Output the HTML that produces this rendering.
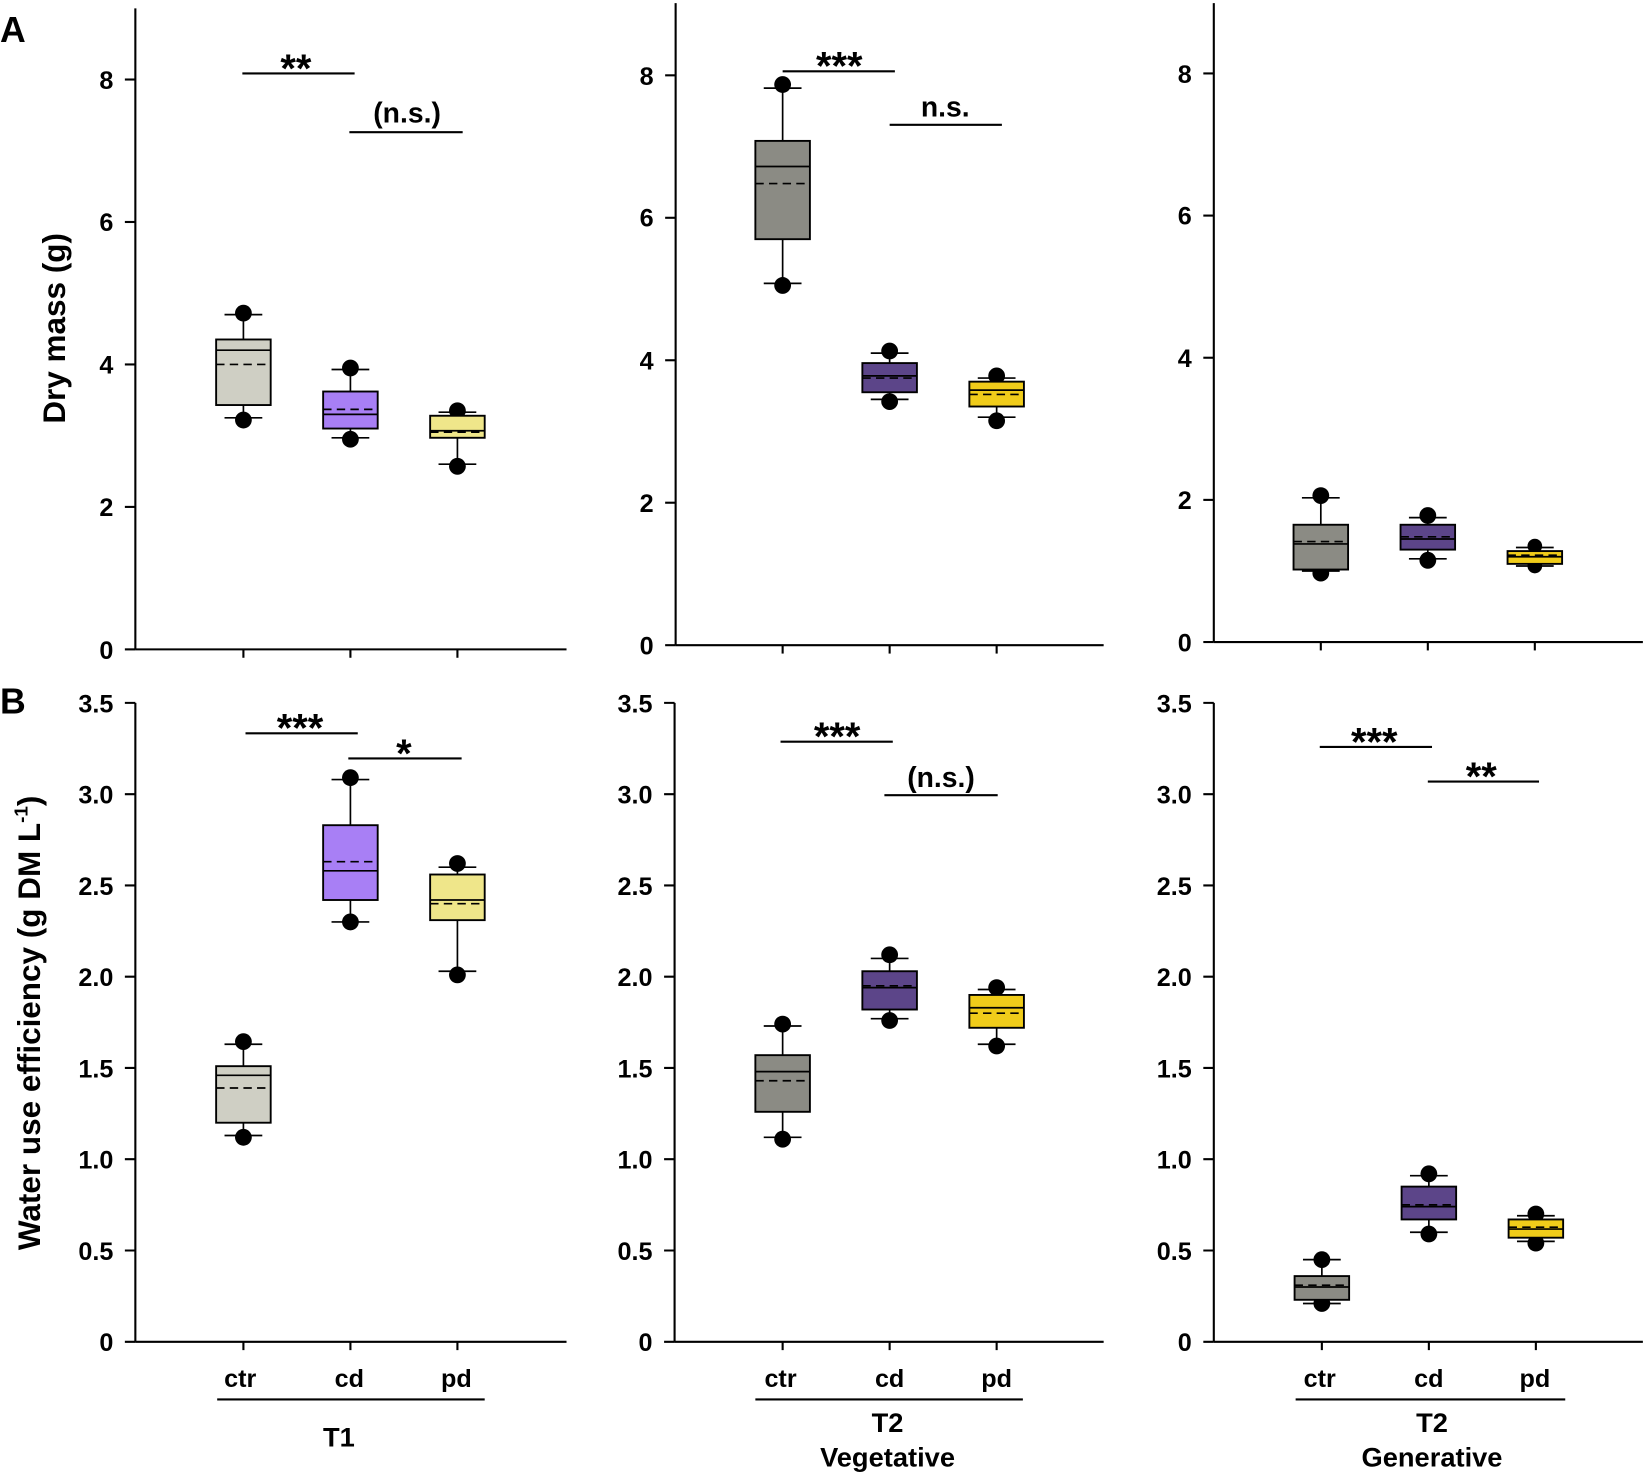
<!DOCTYPE html>
<html><head><meta charset="utf-8"><style>
html,body{margin:0;padding:0;background:#fff;}
svg{display:block;}
text{font-family:"Liberation Sans",Arial,sans-serif;font-weight:bold;fill:#000;}
.ax line,.ax path{stroke:#000;stroke-width:2;fill:none;}
.bx rect{stroke:#000;stroke-width:1.8;}
.bx line{stroke:#000;stroke-width:1.6;}
.bx .mn{stroke-dasharray:8,5;}
.bx circle{fill:#000;}
.tk{font-size:24px;}
.sig line{stroke:#000;stroke-width:2;}
.st{font-size:38px;}
</style></head><body>
<svg width="1645" height="1475" viewBox="0 0 1568 1406" xmlns="http://www.w3.org/2000/svg">
<text x="0" y="40" font-size="34">A</text>
<text x="0" y="680" font-size="34">B</text>
<text transform="translate(62,313) rotate(-90)" font-size="30" text-anchor="middle">Dry mass (g)</text>
<text transform="translate(38,975) rotate(-90)" font-size="30" text-anchor="middle">Water use efficiency (g DM L<tspan dy="-12" font-size="18">-1</tspan><tspan dy="12">)</tspan></text>

<g class="ax">
<line x1="129" y1="8" x2="129" y2="619"/><line x1="129" y1="619" x2="540" y2="619"/>
<line x1="119" y1="619" x2="129" y2="619"/><line x1="119" y1="483.2" x2="129" y2="483.2"/><line x1="119" y1="347.4" x2="129" y2="347.4"/><line x1="119" y1="211.6" x2="129" y2="211.6"/><line x1="119" y1="75.8" x2="129" y2="75.8"/>
<line x1="232" y1="619" x2="232" y2="627"/><line x1="334" y1="619" x2="334" y2="627"/><line x1="436" y1="619" x2="436" y2="627"/>

<line x1="644" y1="3" x2="644" y2="615"/><line x1="644" y1="615" x2="1052" y2="615"/>
<line x1="634" y1="615" x2="644" y2="615"/><line x1="634" y1="479.2" x2="644" y2="479.2"/><line x1="634" y1="343.4" x2="644" y2="343.4"/><line x1="634" y1="207.6" x2="644" y2="207.6"/><line x1="634" y1="71.8" x2="644" y2="71.8"/>
<line x1="746" y1="615" x2="746" y2="623"/><line x1="848" y1="615" x2="848" y2="623"/><line x1="950" y1="615" x2="950" y2="623"/>

<line x1="1157" y1="3" x2="1157" y2="612"/><line x1="1157" y1="612" x2="1566" y2="612"/>
<line x1="1147" y1="612" x2="1157" y2="612"/><line x1="1147" y1="476.5" x2="1157" y2="476.5"/><line x1="1147" y1="341" x2="1157" y2="341"/><line x1="1147" y1="205.5" x2="1157" y2="205.5"/><line x1="1147" y1="70" x2="1157" y2="70"/>
<line x1="1259" y1="612" x2="1259" y2="620"/><line x1="1361" y1="612" x2="1361" y2="620"/><line x1="1463" y1="612" x2="1463" y2="620"/>
</g>
<g class="tk" text-anchor="end">
<text x="108" y="628">0</text><text x="108" y="492">2</text><text x="108" y="356">4</text><text x="108" y="220">6</text><text x="108" y="85">8</text>
<text x="623" y="624">0</text><text x="623" y="488">2</text><text x="623" y="352">4</text><text x="623" y="216">6</text><text x="623" y="81">8</text>
<text x="1136" y="621">0</text><text x="1136" y="485">2</text><text x="1136" y="350">4</text><text x="1136" y="214">6</text><text x="1136" y="79">8</text>
</g>

<g class="ax">
<line x1="129" y1="670" x2="129" y2="1279"/><line x1="129" y1="1279" x2="540" y2="1279"/>
<line x1="643" y1="670" x2="643" y2="1279"/><line x1="643" y1="1279" x2="1052" y2="1279"/>
<line x1="1157" y1="670" x2="1157" y2="1279"/><line x1="1157" y1="1279" x2="1566" y2="1279"/>
<path d="M119 1279H129M119 1192H129M119 1105H129M119 1018H129M119 931H129M119 844H129M119 757H129M119 670H129"/>
<path d="M633 1279H643M633 1192H643M633 1105H643M633 1018H643M633 931H643M633 844H643M633 757H643M633 670H643"/>
<path d="M1147 1279H1157M1147 1192H1157M1147 1105H1157M1147 1018H1157M1147 931H1157M1147 844H1157M1147 757H1157M1147 670H1157"/>
<path d="M232 1279V1287M334 1279V1287M436 1279V1287M746 1279V1287M848 1279V1287M950 1279V1287M1260 1279V1287M1362 1279V1287M1464 1279V1287"/>
<path d="M207 1334H462M720 1334H975M1235 1334H1492"/>
</g>
<g class="tk" text-anchor="end">
<text x="108" y="1288">0</text><text x="108" y="1201">0.5</text><text x="108" y="1114">1.0</text><text x="108" y="1027">1.5</text><text x="108" y="940">2.0</text><text x="108" y="853">2.5</text><text x="108" y="766">3.0</text><text x="108" y="679">3.5</text>
<text x="622" y="1288">0</text><text x="622" y="1201">0.5</text><text x="622" y="1114">1.0</text><text x="622" y="1027">1.5</text><text x="622" y="940">2.0</text><text x="622" y="853">2.5</text><text x="622" y="766">3.0</text><text x="622" y="679">3.5</text>
<text x="1136" y="1288">0</text><text x="1136" y="1201">0.5</text><text x="1136" y="1114">1.0</text><text x="1136" y="1027">1.5</text><text x="1136" y="940">2.0</text><text x="1136" y="853">2.5</text><text x="1136" y="766">3.0</text><text x="1136" y="679">3.5</text>
</g>
<g class="tk" text-anchor="middle">
<text x="229" y="1322">ctr</text><text x="333" y="1322">cd</text><text x="435" y="1322">pd</text>
<text x="744" y="1322">ctr</text><text x="848" y="1322">cd</text><text x="950" y="1322">pd</text>
<text x="1258" y="1322">ctr</text><text x="1362" y="1322">cd</text><text x="1463" y="1322">pd</text>
</g>
<g font-size="26" text-anchor="middle">
<text x="323" y="1379">T1</text>
<text x="846" y="1365">T2</text><text x="846" y="1398">Vegetative</text>
<text x="1365" y="1365">T2</text><text x="1365" y="1398">Generative</text>
</g>

<g class="sig">
<line x1="231" y1="70" x2="338" y2="70"/><line x1="333" y1="126" x2="441" y2="126"/>
<line x1="746" y1="68" x2="853" y2="68"/><line x1="848" y1="119" x2="955" y2="119"/>
<line x1="234" y1="699" x2="341" y2="699"/><line x1="332" y1="723" x2="440" y2="723"/>
<line x1="744" y1="707" x2="851" y2="707"/><line x1="843" y1="758" x2="951" y2="758"/>
<line x1="1258" y1="712" x2="1365" y2="712"/><line x1="1361" y1="745" x2="1467" y2="745"/>
</g>
<g text-anchor="middle">
<text class="st" x="282" y="78">**</text><text font-size="27" x="388" y="117">(n.s.)</text>
<text class="st" x="800" y="76">***</text><text font-size="27" x="901" y="111">n.s.</text>
<text class="st" x="286" y="707">***</text><text class="st" x="385" y="731">*</text>
<text class="st" x="798" y="715">***</text><text font-size="27" x="897" y="750">(n.s.)</text>
<text class="st" x="1310" y="720">***</text><text class="st" x="1412" y="753">**</text>
</g>

<g class="bx">
<line x1="232" y1="298.5" x2="232" y2="400.4"/>
<line x1="214" y1="299.9" x2="250" y2="299.9"/><line x1="214" y1="398.3" x2="250" y2="398.3"/>
<rect x="206" y="323.6" width="52" height="62.5" fill="#cfcfc4"/>
<line x1="206" y1="333.8" x2="258" y2="333.8"/><line class="mn" x1="206" y1="347.4" x2="258" y2="347.4"/>
<circle cx="232" cy="298.5" r="8"/><circle cx="232" cy="400.4" r="8"/>
<line x1="334" y1="350.8" x2="334" y2="418.7"/>
<line x1="316" y1="352.2" x2="352" y2="352.2"/><line x1="316" y1="417.3" x2="352" y2="417.3"/>
<rect x="308" y="373.2" width="52" height="35.3" fill="#a87ff5"/>
<line x1="308" y1="395" x2="360" y2="395"/><line class="mn" x1="308" y1="390.2" x2="360" y2="390.2"/>
<circle cx="334" cy="350.8" r="8"/><circle cx="334" cy="418.7" r="8"/>
<line x1="436" y1="391.5" x2="436" y2="444.5"/>
<line x1="418" y1="392.9" x2="454" y2="392.9"/><line x1="418" y1="442.5" x2="454" y2="442.5"/>
<circle cx="436" cy="391.5" r="8"/>
<rect x="410" y="396.3" width="52" height="21" fill="#efe68a"/>
<line x1="410" y1="410.6" x2="462" y2="410.6"/><line class="mn" x1="410" y1="411.9" x2="462" y2="411.9"/>
<circle cx="436" cy="444.5" r="8"/>

<line x1="746" y1="80.6" x2="746" y2="272.1"/>
<line x1="728" y1="84" x2="764" y2="84"/><line x1="728" y1="270.1" x2="764" y2="270.1"/>
<rect x="720" y="134.3" width="52" height="93.7" fill="#8b8b84"/>
<line x1="720" y1="158.7" x2="772" y2="158.7"/><line class="mn" x1="720" y1="175" x2="772" y2="175"/>
<circle cx="746" cy="80.6" r="8"/><circle cx="746" cy="272.1" r="8"/>
<line x1="848" y1="334.6" x2="848" y2="382.8"/>
<line x1="830" y1="336.6" x2="866" y2="336.6"/><line x1="830" y1="380.7" x2="866" y2="380.7"/>
<circle cx="848" cy="334.6" r="8"/><circle cx="848" cy="382.8" r="8"/>
<rect x="822" y="346.1" width="52" height="27.8" fill="#5c4589"/>
<line x1="822" y1="358.3" x2="874" y2="358.3"/><line class="mn" x1="822" y1="360.4" x2="874" y2="360.4"/>
<line x1="950" y1="358.3" x2="950" y2="401.1"/>
<line x1="932" y1="360.4" x2="968" y2="360.4"/><line x1="932" y1="397.7" x2="968" y2="397.7"/>
<circle cx="950" cy="358.3" r="8"/><circle cx="950" cy="401.1" r="8"/>
<rect x="924" y="363.8" width="52" height="23.7" fill="#f0cc1a"/>
<line x1="924" y1="371.9" x2="976" y2="371.9"/><line class="mn" x1="924" y1="376" x2="976" y2="376"/>

<line x1="1259" y1="472.4" x2="1259" y2="546.3"/>
<line x1="1241" y1="474.5" x2="1277" y2="474.5"/><line x1="1241" y1="544.3" x2="1277" y2="544.3"/>
<circle cx="1259" cy="472.4" r="8"/><circle cx="1259" cy="546.3" r="8"/>
<rect x="1233" y="500.2" width="52" height="42.7" fill="#8b8b84"/>
<line x1="1233" y1="518.5" x2="1285" y2="518.5"/><line class="mn" x1="1233" y1="516.2" x2="1285" y2="516.2"/>
<line x1="1361" y1="491.4" x2="1361" y2="534.1"/>
<line x1="1343" y1="493.4" x2="1379" y2="493.4"/><line x1="1343" y1="532.7" x2="1379" y2="532.7"/>
<circle cx="1361" cy="491.4" r="8"/><circle cx="1361" cy="534.1" r="8"/>
<rect x="1335" y="500.2" width="52" height="23.7" fill="#5c4589"/>
<line x1="1335" y1="513.8" x2="1387" y2="513.8"/><line class="mn" x1="1335" y1="511.7" x2="1387" y2="511.7"/>
<line x1="1463" y1="520.5" x2="1463" y2="539.5"/>
<line x1="1445" y1="521.9" x2="1481" y2="521.9"/><line x1="1445" y1="539.5" x2="1481" y2="539.5"/>
<circle cx="1463" cy="520.5" r="7"/><circle cx="1463" cy="539.5" r="7"/>
<rect x="1437" y="525.3" width="52" height="12.2" fill="#f0cc1a"/>
<line x1="1437" y1="530.7" x2="1489" y2="530.7"/><line class="mn" x1="1437" y1="529.3" x2="1489" y2="529.3"/>

<line x1="232" y1="992.9" x2="232" y2="1084.1"/>
<line x1="214" y1="995.4" x2="250" y2="995.4"/><line x1="214" y1="1082.4" x2="250" y2="1082.4"/>
<circle cx="232" cy="992.9" r="8"/><circle cx="232" cy="1084.1" r="8"/>
<rect x="206" y="1016.3" width="52" height="53.9" fill="#cfcfc4"/>
<line x1="206" y1="1025" x2="258" y2="1025"/><line class="mn" x1="206" y1="1037.1" x2="258" y2="1037.1"/>
<line x1="334" y1="741.3" x2="334" y2="878.8"/>
<line x1="316" y1="743.1" x2="352" y2="743.1"/><line x1="316" y1="878.8" x2="352" y2="878.8"/>
<circle cx="334" cy="741.3" r="8"/><circle cx="334" cy="878.8" r="8"/>
<rect x="308" y="786.6" width="52" height="71.3" fill="#a87ff5"/>
<line x1="308" y1="830.1" x2="360" y2="830.1"/><line class="mn" x1="308" y1="821.4" x2="360" y2="821.4"/>
<line x1="436" y1="823.1" x2="436" y2="929.3"/>
<line x1="418" y1="826.6" x2="454" y2="826.6"/><line x1="418" y1="925.8" x2="454" y2="925.8"/>
<circle cx="436" cy="823.1" r="8"/><circle cx="436" cy="929.3" r="8"/>
<rect x="410" y="833.6" width="52" height="43.5" fill="#efe68a"/>
<line x1="410" y1="857.9" x2="462" y2="857.9"/><line class="mn" x1="410" y1="861.4" x2="462" y2="861.4"/>

<line x1="746" y1="976.2" x2="746" y2="1085.9"/>
<line x1="728" y1="978" x2="764" y2="978"/><line x1="728" y1="1084.1" x2="764" y2="1084.1"/>
<circle cx="746" cy="976.2" r="8"/><circle cx="746" cy="1085.9" r="8"/>
<rect x="720" y="1005.8" width="52" height="54" fill="#8b8b84"/>
<line x1="720" y1="1021.5" x2="772" y2="1021.5"/><line class="mn" x1="720" y1="1030.2" x2="772" y2="1030.2"/>
<line x1="848" y1="910.1" x2="848" y2="972.8"/>
<line x1="830" y1="913.6" x2="866" y2="913.6"/><line x1="830" y1="971" x2="866" y2="971"/>
<circle cx="848" cy="910.1" r="8"/><circle cx="848" cy="972.8" r="8"/>
<rect x="822" y="925.8" width="52" height="36.5" fill="#5c4589"/>
<line x1="822" y1="941.4" x2="874" y2="941.4"/><line class="mn" x1="822" y1="939.7" x2="874" y2="939.7"/>
<line x1="950" y1="941.4" x2="950" y2="997.1"/>
<line x1="932" y1="943.2" x2="968" y2="943.2"/><line x1="932" y1="995.4" x2="968" y2="995.4"/>
<circle cx="950" cy="941.4" r="8"/><circle cx="950" cy="997.1" r="8"/>
<rect x="924" y="948.4" width="52" height="31.3" fill="#f0cc1a"/>
<line x1="924" y1="960.6" x2="976" y2="960.6"/><line class="mn" x1="924" y1="965.8" x2="976" y2="965.8"/>

<line x1="1260" y1="1200.7" x2="1260" y2="1242.5"/>
<line x1="1242" y1="1200.7" x2="1278" y2="1200.7"/><line x1="1242" y1="1242.5" x2="1278" y2="1242.5"/>
<circle cx="1260" cy="1200.7" r="8"/><circle cx="1260" cy="1242.5" r="8"/>
<rect x="1234" y="1216.4" width="52" height="22.6" fill="#8b8b84"/>
<line x1="1234" y1="1226.8" x2="1286" y2="1226.8"/><line class="mn" x1="1234" y1="1225.1" x2="1286" y2="1225.1"/>
<line x1="1362" y1="1118.9" x2="1362" y2="1176.3"/>
<line x1="1344" y1="1120.7" x2="1380" y2="1120.7"/><line x1="1344" y1="1174.6" x2="1380" y2="1174.6"/>
<circle cx="1362" cy="1118.9" r="8"/><circle cx="1362" cy="1176.3" r="8"/>
<rect x="1336" y="1131.1" width="52" height="31.3" fill="#5c4589"/>
<line x1="1336" y1="1150.2" x2="1388" y2="1150.2"/><line class="mn" x1="1336" y1="1148.5" x2="1388" y2="1148.5"/>
<line x1="1464" y1="1157.2" x2="1464" y2="1185"/>
<line x1="1446" y1="1158.9" x2="1482" y2="1158.9"/><line x1="1446" y1="1183.3" x2="1482" y2="1183.3"/>
<circle cx="1464" cy="1157.2" r="8"/><circle cx="1464" cy="1185" r="8"/>
<rect x="1438" y="1162.4" width="52" height="17.4" fill="#f0cc1a"/>
<line x1="1438" y1="1171.6" x2="1490" y2="1171.6"/><line class="mn" x1="1438" y1="1169.8" x2="1490" y2="1169.8"/>
</g>
</svg>
</body></html>
